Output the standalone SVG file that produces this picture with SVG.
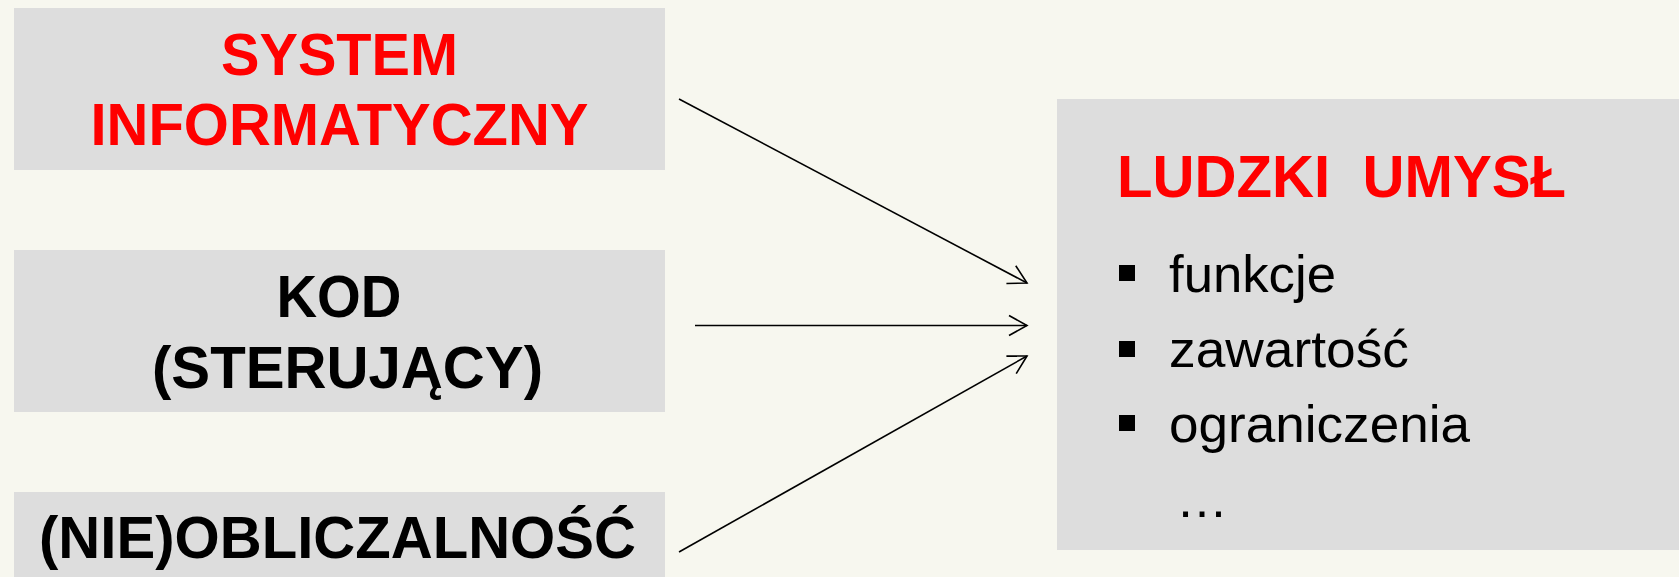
<svg xmlns="http://www.w3.org/2000/svg" width="1679" height="577" viewBox="0 0 1679 577">
<style>
.box{fill:#DDDDDD;}
.bt{font-family:"Liberation Sans",Arial,sans-serif;font-weight:bold;font-size:60px;text-anchor:middle;}
.red{fill:#FF0000;}
.blk{fill:#000000;}
.item{font-family:"Liberation Sans",Arial,sans-serif;font-size:52px;fill:#000000;}
.conn{stroke:#000000;stroke-width:1.6;fill:none;}
</style>
<defs>
<marker id="arr" markerUnits="userSpaceOnUse" markerWidth="26" markerHeight="26" viewBox="0 0 26 26" refX="21" refY="13" orient="auto">
<path d="M3,3 L21,13 L3,23" fill="none" stroke="#000000" stroke-width="1.6"/>
</marker>
</defs>
<rect x="0" y="0" width="1679" height="577" fill="#F7F7EF"/>
<g id="node-system">
<rect class="box" x="14" y="8" width="651" height="162"/>
<text class="bt red" x="339.5" y="75" textLength="237" lengthAdjust="spacingAndGlyphs">SYSTEM</text>
<text class="bt red" x="339.5" y="145" textLength="498" lengthAdjust="spacingAndGlyphs">INFORMATYCZNY</text>
</g>
<g id="node-kod">
<rect class="box" x="14" y="250" width="651" height="162"/>
<text class="bt blk" x="339" y="317" textLength="125" lengthAdjust="spacingAndGlyphs">KOD</text>
<text class="bt blk" x="347.5" y="388" textLength="391" lengthAdjust="spacingAndGlyphs">(STERUJĄCY)</text>
</g>
<g id="node-obliczalnosc">
<rect class="box" x="14" y="492" width="651" height="90"/>
<text class="bt blk" x="337.5" y="558" textLength="597" lengthAdjust="spacingAndGlyphs">(NIE)OBLICZALNOŚĆ</text>
</g>
<g id="node-umysl">
<rect class="box" x="1057" y="99" width="630" height="451"/>
<text class="bt red" x="1117" y="197" style="text-anchor:start;white-space:pre" xml:space="preserve" textLength="449" lengthAdjust="spacingAndGlyphs">LUDZKI  UMYSŁ</text>
<rect x="1119" y="265" width="16" height="16" fill="#000000"/>
<rect x="1119" y="341" width="16" height="16" fill="#000000"/>
<rect x="1119" y="415" width="16" height="16" fill="#000000"/>
<text class="item" x="1169" y="292" textLength="167" lengthAdjust="spacingAndGlyphs">funkcje</text>
<text class="item" x="1169" y="367" textLength="240" lengthAdjust="spacingAndGlyphs">zawartość</text>
<text class="item" x="1169" y="442" textLength="301" lengthAdjust="spacingAndGlyphs">ograniczenia</text>
<text class="item" x="1176" y="517">…</text>
</g>
<g id="connectors">
<line class="conn" x1="679" y1="99" x2="1027" y2="283" marker-end="url(#arr)"/>
<line class="conn" x1="695" y1="325.5" x2="1027" y2="325.5" marker-end="url(#arr)"/>
<line class="conn" x1="679" y1="552" x2="1027" y2="356" marker-end="url(#arr)"/>
</g>
</svg>
